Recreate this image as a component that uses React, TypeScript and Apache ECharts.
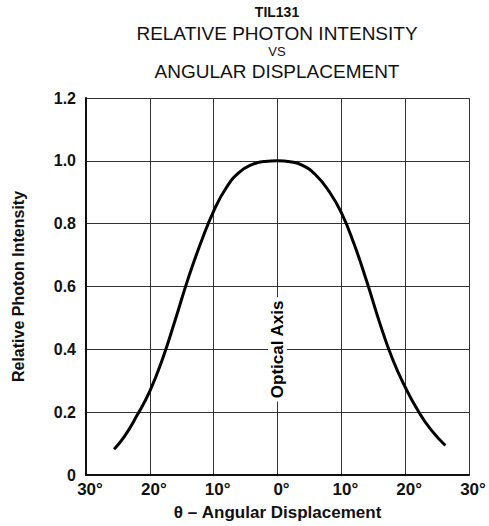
import React, { useEffect, useRef } from "react";
import * as echarts from "echarts";

const FONT = "'Liberation Sans', Arial, Helvetica, sans-serif";

const titleLines = ["TIL131", "RELATIVE PHOTON INTENSITY", "VS", "ANGULAR DISPLACEMENT"];
const xAxisName = "θ – Angular Displacement";
const yAxisName = "Relative Photon Intensity";
const axisNote = "Optical Axis";

// angular displacement (degrees) and relative intensity
const angles = [
  -25.6, -24, -22, -20, -18, -16, -14, -12, -10, -8, -6, -4, -2, 0,
  2, 4, 6, 8, 10, 12, 14, 16, 18, 20, 22, 24, 26.3,
];
const intensity = [
  0.082, 0.122, 0.19, 0.267, 0.37, 0.495, 0.625, 0.74, 0.84, 0.915, 0.963, 0.988, 0.998, 1.0,
  0.997, 0.985, 0.955, 0.905, 0.835, 0.735, 0.615, 0.485, 0.37, 0.28, 0.205, 0.145, 0.094,
];
const notePoint = [0, 0.4];

export default function App() {
  const ref = useRef<HTMLDivElement>(null);
  useEffect(() => {
    if (!ref.current) return;
    const chart = echarts.init(ref.current, null, { renderer: "svg" });
    const cx = 277;
    const titleY = [12, 33, 51, 71];
    const titleSize = [14, 19, 13, 19];
    const titleWeight = ["bold", "normal", "normal", "normal"];
    chart.setOption({
      animation: false,
      backgroundColor: "#fff",
      textStyle: { fontFamily: FONT },
      graphic: titleLines.map((t, i) => ({
        type: "text",
        x: cx,
        y: titleY[i],
        style: {
          text: t,
          fill: "#111",
          font: `${titleWeight[i]} ${titleSize[i]}px ${FONT}`,
          textAlign: "center",
          textVerticalAlign: "middle",
        },
      })),
      grid: { left: 86, right: 20, top: 98, bottom: 46, containLabel: false },
      xAxis: {
        type: "value",
        min: -30,
        max: 30,
        interval: 10,
        name: xAxisName,
        nameLocation: "middle",
        nameGap: 29,
        nameTextStyle: { fontSize: 17, fontWeight: "bold", color: "#111", fontFamily: FONT },
        axisLine: { show: true, onZero: false, lineStyle: { color: "#111", width: 2 } },
        axisTick: { show: false },
        axisLabel: {
          margin: 6,
          fontSize: 17,
          fontWeight: "bold",
          color: "#111",
          fontFamily: FONT,
          padding: [0, 0, 0, 8],
          formatter: (v: number) => `${Math.abs(v)}°`,
        },
        splitLine: { show: true, lineStyle: { color: "#333", width: 1 } },
      },
      yAxis: {
        type: "value",
        min: 0,
        max: 1.2,
        interval: 0.2,
        name: yAxisName,
        nameLocation: "middle",
        nameGap: 60,
        nameTextStyle: { fontSize: 16, fontWeight: "bold", color: "#111", fontFamily: FONT },
        axisLine: { show: true, onZero: false, lineStyle: { color: "#111", width: 2 } },
        axisTick: { show: false },
        axisLabel: {
          margin: 10,
          fontSize: 16,
          fontWeight: "bold",
          color: "#111",
          fontFamily: FONT,
          formatter: (v: number) => (v === 0 ? "0" : v.toFixed(1)),
        },
        splitLine: { show: true, lineStyle: { color: "#333", width: 1 } },
      },
      series: [
        {
          type: "line",
          data: angles.map((a, i) => [a, intensity[i]]),
          smooth: 0.5,
          showSymbol: false,
          symbol: "none",
          lineStyle: { color: "#000", width: 3 },
          z: 3,
        },
        {
          type: "scatter",
          data: [notePoint],
          symbolSize: 0,
          z: 4,
          silent: true,
          itemStyle: { opacity: 1, color: "#000" },
          label: {
            show: true,
            position: "inside",
            rotate: 90,
            formatter: axisNote,
            fontSize: 17,
            fontWeight: "bold",
            color: "#000",
            opacity: 1,
            fontFamily: FONT,
            backgroundColor: "#fff",
            padding: [1, 3],
          },
        },
      ],
    });
    return () => chart.dispose();
  }, []);
  return (
    <div
      ref={ref}
      style={{ position: "fixed", left: 0, top: 0, width: 489, height: 526 }}
    />
  );
}
